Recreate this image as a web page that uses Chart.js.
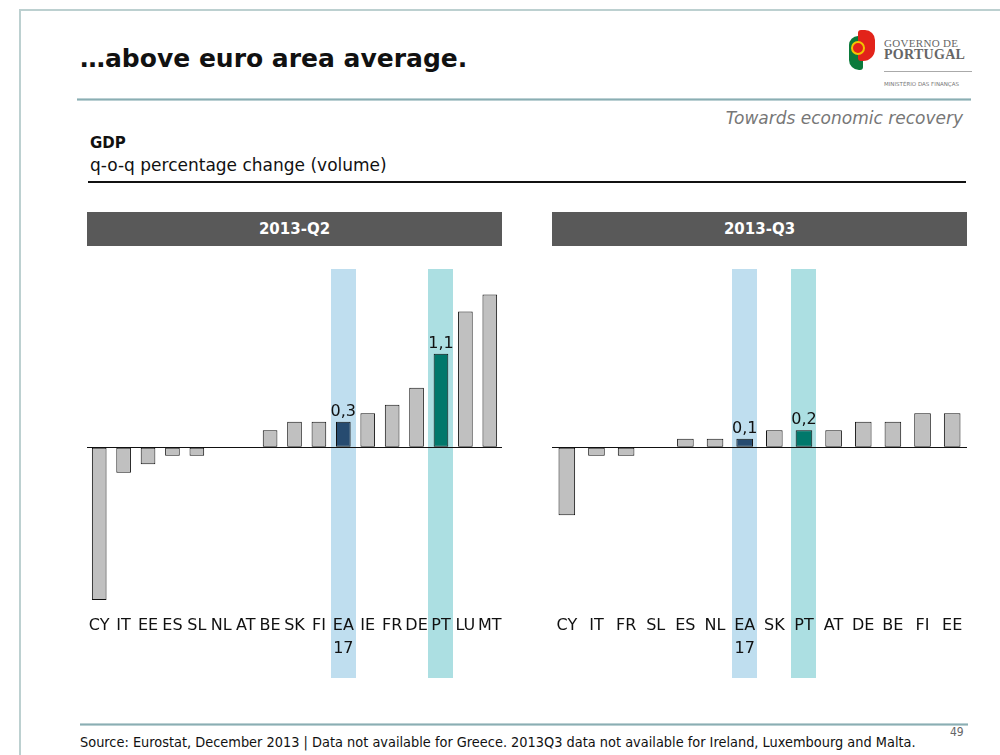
<!DOCTYPE html>
<html><head><meta charset="utf-8">
<script src="https://cdn.jsdelivr.net/npm/chart.js@4"></script>
<style>
html,body{margin:0;padding:0;background:#fff;}
body{width:1000px;height:755px;position:relative;overflow:hidden;font-family:"DejaVu Sans",sans-serif;color:#111;}
.abs{position:absolute;white-space:nowrap;}
#frameTop{left:20px;top:9px;width:980px;height:2px;background:#bcd0d0;}
#frameLeft{left:19px;top:9px;width:2px;height:746px;background:#bcd0d0;}
#title{left:80px;top:44px;font-size:25px;font-weight:bold;color:#111;}
.rule{height:3px;background:linear-gradient(#d3e1e3,#8aaeb3,#d3e1e3);}
#rule1{left:77px;top:98px;width:894px;}
#sub{right:37px;top:108px;font-size:17px;font-style:italic;color:#777;}
#gdp{left:90px;top:134px;font-size:15px;font-weight:bold;}
#unit{left:90px;top:155px;font-size:17px;}
#rule2{left:88px;top:181px;width:878px;height:2px;background:#111;}
.head{top:212px;width:415px;height:34px;line-height:34px;background:#595959;color:#fff;font-weight:bold;font-size:15px;text-align:center;}
#h1{left:87px;} #h2{left:552px;}
#c1wrap{left:87px;top:250px;width:415px;height:440px;}
#c2wrap{left:552px;top:250px;width:415px;height:440px;}
#rule3{left:80px;top:723px;width:888px;}
#src{left:80px;top:734px;font-size:14.4px;font-family:"DejaVu Sans Condensed","DejaVu Sans",sans-serif;}
#pg{left:950px;top:725px;font-size:12px;color:#666;font-family:"DejaVu Sans Condensed",sans-serif;}
/* logo */
#lg1{left:849px;top:36px;width:14px;height:34px;background:#0b7a3b;border-radius:9px 3px 3px 10px;}
#lg2{left:858px;top:30px;width:17px;height:31px;background:#e2231a;border-radius:3px 10px 12px 3px;}
#lg3{left:851px;top:41px;width:10px;height:10px;border:2px solid #f2c500;border-radius:50%;background:#e2231a;}
#lg4{left:884px;top:37px;font-size:11px;font-family:"Liberation Serif",serif;color:#666;letter-spacing:0.3px;}
#lg5{left:884px;top:47px;font-size:14px;font-weight:bold;font-family:"Liberation Serif",serif;color:#666;letter-spacing:0.3px;}
#lg6{left:884px;top:71px;width:88px;height:1px;background:#aaa;}
#lg7{left:884px;top:81px;font-size:5.5px;color:#777;}
</style></head>
<body>
<div class="abs" id="frameTop"></div>
<div class="abs" id="frameLeft"></div>
<div class="abs" id="title">…above euro area average.</div>
<div class="abs rule" id="rule1"></div>
<div class="abs" id="sub">Towards economic recovery</div>
<div class="abs" id="gdp">GDP</div>
<div class="abs" id="unit">q-o-q percentage change (volume)</div>
<div class="abs" id="rule2"></div>
<div class="abs head" id="h1">2013-Q2</div>
<div class="abs head" id="h2">2013-Q3</div>
<div class="abs" id="c1wrap"><canvas id="c1" width="415" height="440"></canvas></div>
<div class="abs" id="c2wrap"><canvas id="c2" width="415" height="440"></canvas></div>
<div class="abs rule" id="rule3"></div>
<div class="abs" id="src">Source: Eurostat, December 2013 | Data not available for Greece. 2013Q3 data not available for Ireland, Luxembourg and Malta.</div>
<div class="abs" id="pg">49</div>
<div class="abs" id="lg1"></div><div class="abs" id="lg2"></div><div class="abs" id="lg3"></div>
<div class="abs" id="lg4">GOVERNO DE</div>
<div class="abs" id="lg5">PORTUGAL</div>
<div class="abs" id="lg6"></div>
<div class="abs" id="lg7">MINISTÉRIO DAS FINANÇAS</div>
<script>
// ---- data ----
const catsQ2 = ['CY','IT','EE','ES','SL','NL','AT','BE','SK','FI',['EA','17'],'IE','FR','DE','PT','LU','MT'];
const valsQ2 = [-1.8,-0.3,-0.2,-0.1,-0.1,0,0,0.2,0.3,0.3,0.3,0.4,0.5,0.7,1.1,1.6,1.8];
const catsQ3 = ['CY','IT','FR','SL','ES','NL',['EA','17'],'SK','PT','AT','DE','BE','FI','EE'];
const valsQ3 = [-0.8,-0.1,-0.1,0,0.1,0.1,0.1,0.2,0.2,0.2,0.3,0.3,0.4,0.4];
const highlighted = ['EA','PT'];

// ---- styles ----
const barColor = {EA:'#264b70', PT:'#00786b'};
const bandColor = {EA:'#bfdeef', PT:'#acdfe2'};
const greyBar = '#c0c0c0';
const keyOf = l => Array.isArray(l) ? l[0] : l;

const bandPlugin = {
  id:'bands',
  beforeDraw(chart){
    const {ctx, chartArea} = chart;
    const x = chart.scales.x;
    chart.data.labels.forEach((lab,i)=>{
      const col = bandColor[keyOf(lab)];
      if(!col) return;
      const cx = x.getPixelForValue(i);
      ctx.save();
      ctx.fillStyle = col;
      ctx.fillRect(Math.round(cx-12.5), chartArea.top, 25, 428-chartArea.top);
      ctx.restore();
    });
  }
};
const valuePlugin = {
  id:'vals',
  afterDatasetsDraw(chart){
    const {ctx} = chart;
    const meta = chart.getDatasetMeta(0);
    const ds = chart.data.datasets[0].data;
    chart.data.labels.forEach((lab,i)=>{
      if(!highlighted.includes(keyOf(lab))) return;
      const el = meta.data[i];
      ctx.save();
      ctx.font = '16px "DejaVu Sans"';
      ctx.fillStyle = '#111';
      ctx.textAlign = 'center';
      ctx.textBaseline = 'bottom';
      ctx.fillText(ds[i].toFixed(1).replace('.',','), el.x, el.y-2);
      ctx.restore();
    });
  }
};

function makeChart(id, cats, vals, barPct){
  return new Chart(document.getElementById(id), {
    type:'bar',
    data:{labels:cats, datasets:[{
      data:vals,
      backgroundColor:cats.map(c=>barColor[keyOf(c)]||greyBar),
      borderColor:'#111', borderWidth:1, borderSkipped:false,
      categoryPercentage:1, barPercentage:barPct
    }]},
    options:{
      responsive:false, animation:false,
      layout:{padding:{top:19,left:0,right:0,bottom:0}},
      plugins:{legend:{display:false}, tooltip:{enabled:false}},
      scales:{
        x:{
          grid:{display:false, drawTicks:false}, border:{display:false},
          ticks:{autoSkip:false, maxRotation:0, minRotation:0, padding:15,
                 color:'#111', font:{family:'DejaVu Sans', size:16, lineHeight:1.4}},
          afterFit:s=>{s.height=90; s.paddingLeft=0; s.paddingRight=0;}
        },
        y:{
          min:-1.8, max:2.1,
          ticks:{display:false, stepSize:0.1},
          border:{display:false},
          grid:{drawTicks:false, lineWidth:1,
                color:c=>Math.abs(c.tick.value)<1e-9 ? '#111' : 'rgba(0,0,0,0)'},
          afterFit:s=>{s.width=0; s.paddingTop=0; s.paddingBottom=0;}
        }
      }
    },
    plugins:[bandPlugin, valuePlugin]
  });
}
makeChart('c1', catsQ2, valsQ2, 0.6);
makeChart('c2', catsQ3, valsQ3, 0.56);
</script>
</body></html>
